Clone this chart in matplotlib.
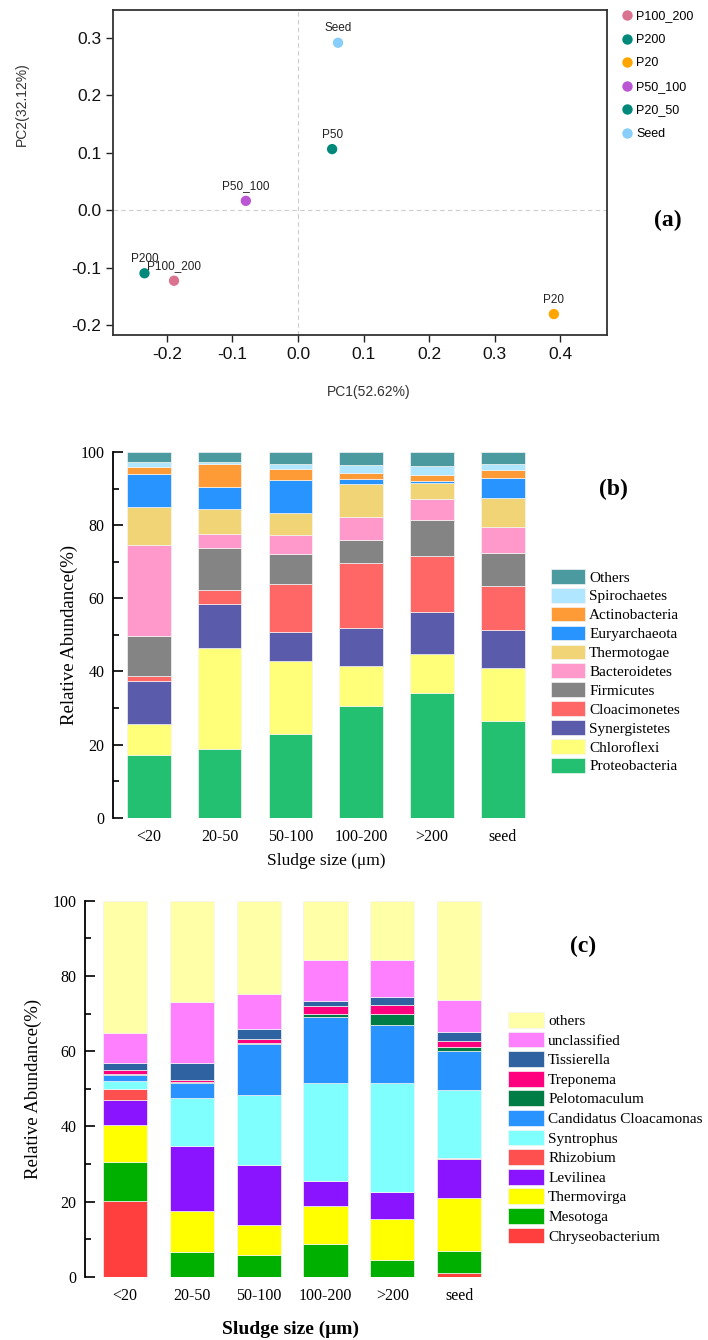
import matplotlib
matplotlib.use("Agg")
import matplotlib.pyplot as plt
from matplotlib.patches import Patch
from matplotlib.lines import Line2D
from matplotlib.ticker import MultipleLocator

# ---------------- data (a) PCA ----------------
pca_labels = ["Seed", "P50", "P50_100", "P200", "P100_200", "P20"]
pca_x = [0.061, 0.052, -0.0795, -0.234, -0.189, 0.390]
pca_y = [0.291, 0.106, 0.016, -0.110, -0.123, -0.181]
pca_colors = ["#87CEFA", "#00897B", "#BA55D3", "#00897B", "#D9738F", "#FFA500"]
pca_legend_labels = ["P100_200", "P200", "P20", "P50_100", "P20_50", "Seed"]
pca_legend_colors = ["#D9738F", "#00897B", "#FFA500", "#BA55D3", "#00897B", "#87CEFA"]

# ---------------- data (b) phylum ----------------
groups = ["<20", "20-50", "50-100", "100-200", ">200", "seed"]
phyla = ["Proteobacteria", "Chloroflexi", "Synergistetes", "Cloacimonetes",
         "Firmicutes", "Bacteroidetes", "Thermotogae", "Euryarchaeota",
         "Actinobacteria", "Spirochaetes", "Others"]
Proteobacteria = [17.1, 18.8, 22.8, 30.5, 34.0, 26.4]
Chloroflexi = [8.4, 27.5, 20.0, 11.0, 10.9, 14.5]
Synergistetes = [11.9, 12.2, 8.0, 10.4, 11.3, 10.3]
Cloacimonetes = [1.4, 3.8, 13.2, 17.7, 15.4, 12.2]
Firmicutes = [11.0, 11.5, 8.1, 6.3, 9.8, 9.0]
Bacteroidetes = [24.9, 3.9, 5.2, 6.3, 5.7, 7.1]
Thermotogae = [10.2, 6.7, 6.1, 9.1, 4.5, 8.0]
Euryarchaeota = [9.2, 6.0, 9.0, 1.3, 0.4, 5.5]
Actinobacteria = [1.9, 6.4, 3.0, 1.7, 1.6, 2.1]
Spirochaetes = [1.4, 0.5, 1.2, 2.2, 2.6, 1.6]
Others_b = [2.6, 2.7, 3.4, 3.5, 3.8, 3.3]
phylum_values = [Proteobacteria, Chloroflexi, Synergistetes, Cloacimonetes,
                 Firmicutes, Bacteroidetes, Thermotogae, Euryarchaeota,
                 Actinobacteria, Spirochaetes, Others_b]
phylum_colors = ["#22C070", "#FFFF7A", "#5B5BAB", "#FF6666", "#848484",
                 "#FF99CC", "#F0D475", "#2894FF", "#FF9B37", "#B0E6FF", "#4A9AA0"]

# ---------------- data (c) genus ----------------
genera = ["Chryseobacterium", "Mesotoga", "Thermovirga", "Levilinea", "Rhizobium",
          "Syntrophus", "Candidatus Cloacamonas", "Pelotomaculum", "Treponema",
          "Tissierella", "unclassified", "others"]
Chryseobacterium = [20.1, 0.0, 0.0, 0.0, 0.0, 0.9]
Mesotoga = [10.3, 6.6, 5.9, 8.7, 4.5, 5.9]
Thermovirga = [9.9, 10.9, 7.8, 10.1, 10.9, 14.2]
Levilinea = [6.8, 17.3, 16.1, 6.6, 7.1, 10.4]
Rhizobium = [2.8, 0.0, 0.0, 0.0, 0.0, 0.2]
Syntrophus = [2.2, 12.8, 18.5, 26.0, 29.0, 18.1]
Candidatus_Cloacamonas = [1.5, 3.8, 13.5, 17.8, 15.5, 10.3]
Pelotomaculum = [0.3, 0.3, 0.3, 0.8, 2.9, 1.2]
Treponema = [1.2, 0.5, 1.1, 2.0, 2.4, 1.5]
Tissierella = [1.8, 4.6, 2.7, 1.2, 2.2, 2.5]
unclassified = [8.0, 16.2, 9.2, 11.1, 9.7, 8.4]
others_c = [35.1, 27.0, 24.9, 15.7, 15.8, 26.4]
genus_values = [Chryseobacterium, Mesotoga, Thermovirga, Levilinea, Rhizobium,
                Syntrophus, Candidatus_Cloacamonas, Pelotomaculum, Treponema,
                Tissierella, unclassified, others_c]
genus_colors = ["#FF3E3E", "#00B000", "#FFFF00", "#8A14FF", "#FF5050", "#80FFFF",
                "#2993FF", "#007D45", "#FF007F", "#2E62A0", "#FF80FF", "#FFFFA8"]

W, H = 708, 1340
fig = plt.figure(figsize=(W / 100, H / 100), dpi=100)

def fx(px):
    return px / W

def fy(py):
    return 1 - py / H

SANS = ["Liberation Sans", "DejaVu Sans"]
SERIF = ["Liberation Serif", "DejaVu Serif"]

# ================= (a) =================
axa = fig.add_axes([fx(113), fy(335), fx(607) - fx(113), fy(10) - fy(335)])
axa.set_xlim(-0.282, 0.471)
axa.set_ylim(-0.2174, 0.348)
axa.axhline(0, color="#cccccc", ls=(0, (4, 3)), lw=0.8, zorder=0)
axa.axvline(0, color="#cccccc", ls=(0, (4, 3)), lw=0.8, zorder=0)
axa.scatter(pca_x, pca_y, s=55, c=pca_colors, zorder=3, linewidths=0)
for lab, x, y in zip(pca_labels, pca_x, pca_y):
    axa.annotate(lab, (x, y), xytext=(0, 6), textcoords="offset points",
                 ha="center", va="bottom", fontsize=8.5, family=SANS, color="#222222")
axa.set_xticks([-0.2, -0.1, 0.0, 0.1, 0.2, 0.3, 0.4])
axa.set_yticks([-0.2, -0.1, 0.0, 0.1, 0.2, 0.3])
axa.set_xticklabels(["-0.2", "-0.1", "0.0", "0.1", "0.2", "0.3", "0.4"])
axa.set_yticklabels(["-0.2", "-0.1", "0.0", "0.1", "0.2", "0.3"])
axa.tick_params(labelsize=12.5, length=5, width=1, color="#222222", labelcolor="#111111")
for lbl in axa.get_xticklabels() + axa.get_yticklabels():
    lbl.set_family(SANS)
for sp in axa.spines.values():
    sp.set_linewidth(1.3)
    sp.set_color("#333333")
fig.text(fx(369), fy(392), "PC1(52.62%)", ha="center", va="center",
         fontsize=10, family=SANS, color="#333333")
fig.text(fx(22), fy(104), "PC2(32.12%)", ha="center", va="center", rotation=90,
         fontsize=10, family=SANS, color="#333333")
handles_a = [Line2D([0], [0], marker="o", ls="none", markersize=7.5,
                    markerfacecolor=c, markeredgewidth=0) for c in pca_legend_colors]
fig.legend(handles_a, pca_legend_labels, loc="upper left",
           bbox_to_anchor=(fx(622), fy(10.5)), frameon=False, borderpad=0, borderaxespad=0,
           handlelength=0.8, handletextpad=0.35, labelspacing=0.92,
           prop={"family": SANS, "size": 9})
fig.text(fx(668), fy(220), "(a)", ha="center", va="center", fontsize=17,
         fontweight="bold", family=SERIF)

# ================= helper for stacked bars =================
def stacked(ax, values, colors, width):
    xs = list(range(len(groups)))
    bottoms = [0.0] * len(groups)
    for vals, col in zip(values, colors):
        ax.bar(xs, vals, width=width, bottom=bottoms, color=col,
               edgecolor="#f4f4f4", linewidth=0.5)
        bottoms = [b + v for b, v in zip(bottoms, vals)]
    ax.set_ylim(0, 100)
    ax.set_xticks(xs)
    ax.set_xticklabels(groups, family=SERIF, fontsize=11.5)
    ax.set_yticks([0, 20, 40, 60, 80, 100])
    ax.set_yticklabels(["0", "20", "40", "60", "80", "100"], family=SERIF, fontsize=11.5)
    ax.yaxis.set_minor_locator(MultipleLocator(10))
    ax.tick_params(axis="y", which="major", direction="in", length=7, width=1.2, pad=6)
    ax.tick_params(axis="y", which="minor", direction="in", length=4, width=1.2)
    ax.tick_params(axis="x", length=0, pad=8)
    for s in ["top", "right", "bottom"]:
        ax.spines[s].set_visible(False)
    ax.spines["left"].set_linewidth(1.3)

# ================= (b) =================
axb = fig.add_axes([fx(112.7), fy(817.7), fx(540) - fx(112.7), fy(452) - fy(817.7)])
stacked(axb, phylum_values, phylum_colors, 0.617)
axb.set_xlim(-0.51, 5.525)
axb.set_ylabel("Relative Abundance(%)", family=SERIF, fontsize=13.5, labelpad=2)
axb.set_xlabel("Sludge size (\u03bcm)", family=SERIF, fontsize=12.5, labelpad=6)
handles_b = [Patch(facecolor=c, edgecolor="#f4f4f4", linewidth=0.5) for c in phylum_colors]
fig.legend(handles_b[::-1], phyla[::-1], loc="upper left",
           bbox_to_anchor=(fx(550.7), fy(569)), frameon=False, borderpad=0, borderaxespad=0,
           handlelength=2.22, handleheight=1.1, handletextpad=0.3, labelspacing=0.22,
           prop={"family": SERIF, "size": 11})
fig.text(fx(613), fy(489), "(b)", ha="center", va="center", fontsize=17,
         fontweight="bold", family=SERIF)

# ================= (c) =================
axc = fig.add_axes([fx(85), fy(1276.7), fx(495) - fx(85), fy(900.7) - fy(1276.7)])
stacked(axc, genus_values, genus_colors, 0.66)
axc.set_xlim(-0.60, 5.538)
axc.set_ylabel("Relative Abundance(%)", family=SERIF, fontsize=13.5, labelpad=8)
axc.set_xlabel("Sludge size (\u03bcm)", family=SERIF, fontsize=14, fontweight="bold", labelpad=12)
handles_c = [Patch(facecolor=c, edgecolor="#f4f4f4", linewidth=0.5) for c in genus_colors]
fig.legend(handles_c[::-1], genera[::-1], loc="upper left",
           bbox_to_anchor=(fx(508.3), fy(1012)), frameon=False, borderpad=0, borderaxespad=0,
           handlelength=2.36, handleheight=1.22, handletextpad=0.25, labelspacing=0.23,
           prop={"family": SERIF, "size": 11})
fig.text(fx(583), fy(946), "(c)", ha="center", va="center", fontsize=17,
         fontweight="bold", family=SERIF)

fig.savefig("out.png", dpi=100)
